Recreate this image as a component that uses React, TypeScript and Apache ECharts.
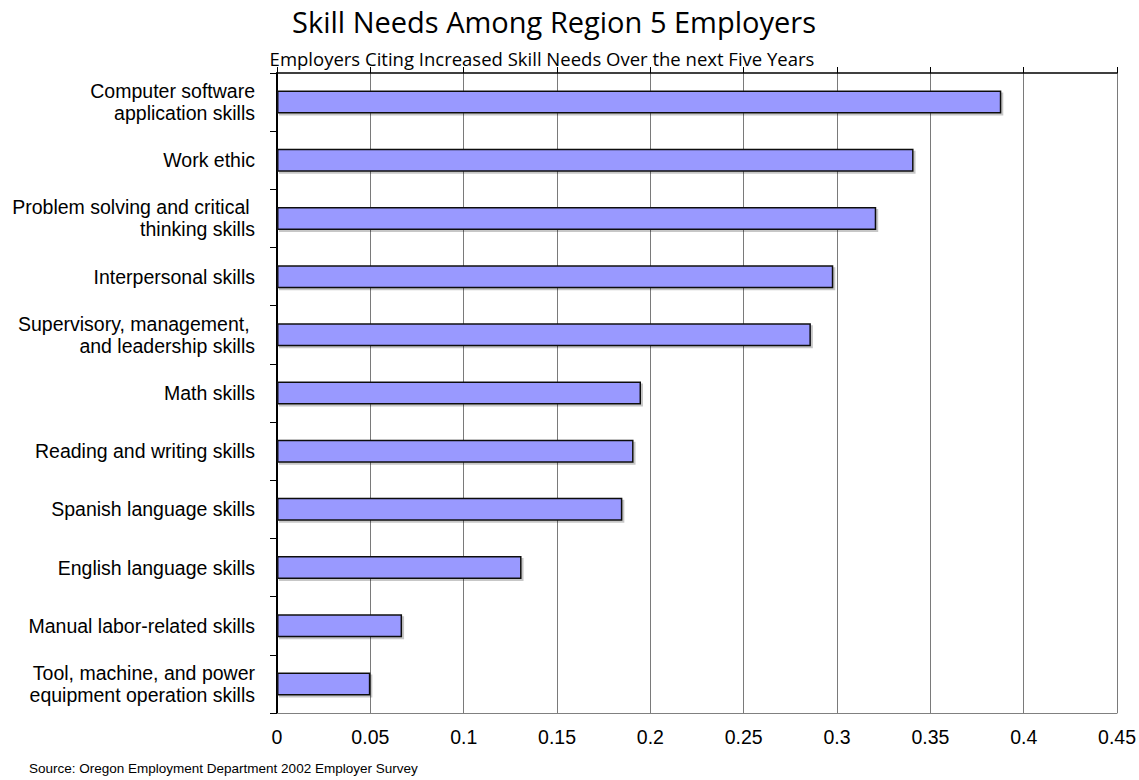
import React, { useEffect, useRef } from "react";
import * as echarts from "echarts";

const categories = [
  "Computer software\napplication skills",
  "Work ethic",
  "Problem solving and critical \nthinking skills",
  "Interpersonal skills",
  "Supervisory, management, \nand leadership skills",
  "Math skills",
  "Reading and writing skills",
  "Spanish language skills",
  "English language skills",
  "Manual labor-related skills",
  "Tool, machine, and power\nequipment operation skills",
];
const values = [0.388, 0.341, 0.321, 0.298, 0.286, 0.195, 0.191, 0.185, 0.131, 0.067, 0.05];
const axisMin = 0;
const axisMax = 0.45;
const axisStep = 0.05;

const titleText = "Skill Needs Among Region 5 Employers";
const subtitleText = "Employers Citing Increased Skill Needs Over the next Five Years";
const sourceText = "Source: Oregon Employment Department 2002 Employer Survey";

export default function App() {
  const ref = useRef<HTMLDivElement>(null);
  useEffect(() => {
    if (!ref.current) return;
    const chart = echarts.init(ref.current, null, { renderer: "svg" });
    const sans = "'Liberation Sans', Arial, sans-serif";
    chart.setOption({
      animation: false,
      backgroundColor: "#ffffff",
      title: [
        {
          text: titleText,
          left: 549,
          top: 2,
          textAlign: "center",
          textStyle: { fontFamily: "'Open Sans', sans-serif", fontSize: 29, fontWeight: "normal", color: "#000" },
        },
        {
          text: subtitleText,
          left: 537,
          top: 44,
          textAlign: "center",
          textStyle: { fontFamily: "'Open Sans', sans-serif", fontSize: 18.5, fontWeight: "normal", color: "#000" },
        },
        {
          text: sourceText,
          left: 24,
          top: 756,
          textStyle: { fontFamily: sans, fontSize: 13.5, fontWeight: "normal", color: "#000" },
        },
      ],
      grid: { left: 277, right: 20, top: 73, bottom: 67, containLabel: false },
      xAxis: [
        {
          type: "value",
          position: "bottom",
          min: axisMin,
          max: axisMax,
          interval: axisStep,
          axisLine: { show: true, lineStyle: { color: "#808080", width: 1 } },
          axisTick: { show: false },
          axisLabel: { show: true, margin: 14, fontFamily: sans, fontSize: 19.5, color: "#000" },
          splitLine: { show: true, lineStyle: { color: "#7a7a7a", width: 1 } },
        },
        {
          type: "value",
          position: "top",
          min: axisMin,
          max: axisMax,
          interval: axisStep,
          axisLine: { show: true, onZero: false, lineStyle: { color: "#000", width: 1.5 } },
          axisTick: { show: true, inside: false, length: 6, lineStyle: { color: "#000", width: 1 } },
          axisLabel: { show: false },
          splitLine: { show: false },
        },
      ],
      yAxis: {
        type: "category",
        inverse: true,
        data: categories,
        axisLine: { show: true, lineStyle: { color: "#000", width: 2 } },
        axisTick: { show: true, inside: false, length: 7, lineStyle: { color: "#000", width: 1 } },
        axisLabel: {
          margin: 22,
          fontFamily: sans,
          fontSize: 19.5,
          lineHeight: 22,
          color: "#000",
          align: "right",
        },
        splitLine: { show: false },
      },
      series: [
        {
          type: "bar",
          data: values,
          xAxisIndex: 0,
          barWidth: 23,
          itemStyle: {
            color: "#9999ff",
            borderColor: "#111111",
            borderWidth: 1.5,
            shadowColor: "rgba(0,0,0,0.22)",
            shadowOffsetX: 2,
            shadowOffsetY: 2,
            shadowBlur: 0,
          },
        },
      ],
    });
    return () => chart.dispose();
  }, []);
  return (
    <div
      ref={ref}
      style={{ position: "fixed", left: 0, top: 0, width: 1139, height: 780, background: "#fff" }}
    />
  );
}
